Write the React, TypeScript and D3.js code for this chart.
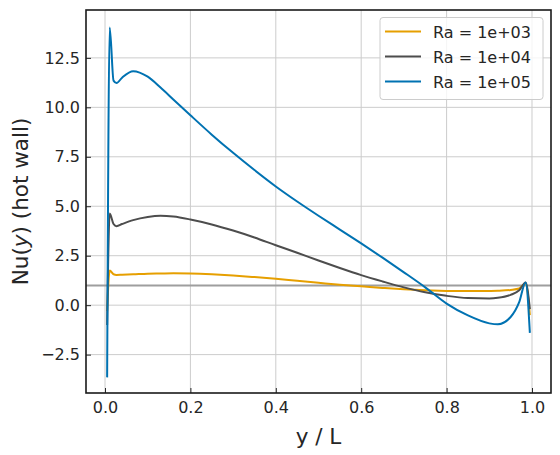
import { useEffect, useRef } from "react";
import * as d3 from "d3";

// sample positions along the wall (y / L)
const yPos = [
  0.005, 0.011, 0.02, 0.027, 0.04, 0.066, 0.1, 0.13, 0.16, 0.2, 0.25, 0.3, 0.35,
  0.4, 0.45, 0.5, 0.55, 0.6, 0.65, 0.7, 0.75, 0.8, 0.85, 0.9, 0.92, 0.95, 0.97,
  0.985, 0.995,
];

const nuRa1e3 = [
  -0.3, 1.75, 1.56, 1.53, 1.54, 1.56, 1.59, 1.6, 1.61, 1.6, 1.56, 1.5, 1.42,
  1.33, 1.23, 1.13, 1.03, 0.95, 0.87, 0.8, 0.75, 0.72, 0.71, 0.72, 0.73, 0.77,
  0.84, 1.1, -0.5,
];
const nuRa1e4 = [
  -1.0, 4.63, 4.1, 3.99, 4.1, 4.3, 4.46, 4.52, 4.48, 4.33, 4.08, 3.77, 3.42,
  3.03, 2.65, 2.26, 1.88, 1.52, 1.2, 0.9, 0.65, 0.47, 0.36, 0.34, 0.37, 0.52,
  0.75, 1.15, -0.2,
];
const nuRa1e5 = [
  -3.65, 14.04, 11.35, 11.23, 11.5, 11.83, 11.55, 11.0, 10.4, 9.6, 8.62, 7.7,
  6.83, 6.0, 5.24, 4.52, 3.82, 3.12, 2.4, 1.66, 0.9, 0.08, -0.52, -0.92,
  -0.97, -0.6, 0.15, 1.15, -1.4,
];

const seriesNames = ["Ra = 1e+03", "Ra = 1e+04", "Ra = 1e+05"];
const seriesColors = ["#E69F00", "#4d4d4d", "#0072B2"];
const xTicks = [0, 0.2, 0.4, 0.6, 0.8, 1.0];
const yTicks = [-2.5, 0, 2.5, 5, 7.5, 10, 12.5];

const App = () => {
  const svgRef = useRef<SVGSVGElement | null>(null);
  const width = 560;
  const height = 455;
  const margin = { top: 10, right: 9, bottom: 62, left: 86 };

  useEffect(() => {
    const svg = d3.select(svgRef.current);
    svg.selectAll("*").remove();

    const font = "DejaVu Sans, sans-serif";
    const x = d3
      .scaleLinear()
      .domain([-0.0445, 1.0445])
      .range([margin.left, width - margin.right]);
    const y = d3
      .scaleLinear()
      .domain([-4.44, 14.92])
      .range([height - margin.bottom, margin.top]);

    // grid
    const grid = svg.append("g").attr("stroke", "#cccccc").attr("stroke-width", 1);
    xTicks.forEach((t) => {
      grid
        .append("line")
        .attr("x1", x(t))
        .attr("x2", x(t))
        .attr("y1", margin.top)
        .attr("y2", height - margin.bottom);
    });
    yTicks.forEach((t) => {
      grid
        .append("line")
        .attr("x1", margin.left)
        .attr("x2", width - margin.right)
        .attr("y1", y(t))
        .attr("y2", y(t));
    });

    // reference line Nu = 1
    svg
      .append("line")
      .attr("x1", margin.left)
      .attr("x2", width - margin.right)
      .attr("y1", y(1))
      .attr("y2", y(1))
      .attr("stroke", "#9e9e9e")
      .attr("stroke-width", 2);

    const line = d3
      .line<number>()
      .x((_, i) => x(yPos[i]))
      .y((d) => y(d))
      .curve(d3.curveMonotoneX);

    [nuRa1e3, nuRa1e4, nuRa1e5].forEach((vals, i) => {
      svg
        .append("path")
        .datum(vals)
        .attr("d", line)
        .attr("fill", "none")
        .attr("stroke", seriesColors[i])
        .attr("stroke-width", 2)
        .attr("stroke-linejoin", "round");
    });

    // axes with inward ticks
    const xAxis = svg
      .append("g")
      .attr("transform", `translate(0,${height - margin.bottom})`)
      .call(
        d3
          .axisBottom(x)
          .tickValues(xTicks)
          .tickSize(-5)
          .tickPadding(9)
          .tickFormat(d3.format(".1f"))
      );
    const yAxis = svg
      .append("g")
      .attr("transform", `translate(${margin.left},0)`)
      .call(
        d3
          .axisLeft(y)
          .tickValues(yTicks)
          .tickSize(-5)
          .tickPadding(6)
          .tickFormat((d) => d3.format(".1f")(d as number).replace("-", "\u2212"))
      );
    [xAxis, yAxis].forEach((g) => {
      g.select(".domain").remove();
      g.selectAll("text")
        .attr("font-family", font)
        .attr("font-size", 16)
        .attr("fill", "#262626");
      g.selectAll("line").attr("stroke", "#262626");
    });

    // frame
    svg
      .append("rect")
      .attr("x", margin.left)
      .attr("y", margin.top)
      .attr("width", width - margin.left - margin.right)
      .attr("height", height - margin.top - margin.bottom)
      .attr("fill", "none")
      .attr("stroke", "#1a1a1a")
      .attr("stroke-width", 1.6);

    // axis labels
    svg
      .append("text")
      .attr("x", (margin.left + width - margin.right) / 2)
      .attr("y", 444)
      .attr("text-anchor", "middle")
      .attr("font-family", font)
      .attr("font-size", 21.5)
      .attr("fill", "#262626")
      .text("y / L");

    const yl = svg
      .append("text")
      .attr("transform", `translate(28,${(margin.top + height - margin.bottom) / 2}) rotate(-90)`)
      .attr("text-anchor", "middle")
      .attr("font-family", font)
      .attr("font-size", 21.5)
      .attr("fill", "#262626");
    yl.append("tspan").text("Nu(");
    yl.append("tspan").attr("font-style", "italic").text("y");
    yl.append("tspan").text(") (hot wall)");

    // legend
    const lg = svg.append("g");
    lg.append("rect")
      .attr("x", 380)
      .attr("y", 17.5)
      .attr("width", 163)
      .attr("height", 82)
      .attr("rx", 3)
      .attr("fill", "white")
      .attr("fill-opacity", 0.8)
      .attr("stroke", "#cccccc");
    seriesNames.forEach((name, i) => {
      const cy = 31.5 + i * 25;
      lg.append("line")
        .attr("x1", 385)
        .attr("x2", 421)
        .attr("y1", cy)
        .attr("y2", cy)
        .attr("stroke", seriesColors[i])
        .attr("stroke-width", 2);
      lg.append("text")
        .attr("x", 433)
        .attr("y", cy + 6)
        .attr("font-family", font)
        .attr("font-size", 16)
        .attr("fill", "#262626")
        .text(name);
    });
  }, []);

  return (
    <svg
      ref={svgRef}
      width={width}
      height={height}
      style={{ position: "absolute", left: 0, top: 0, background: "white" }}
    />
  );
};

export default App;
